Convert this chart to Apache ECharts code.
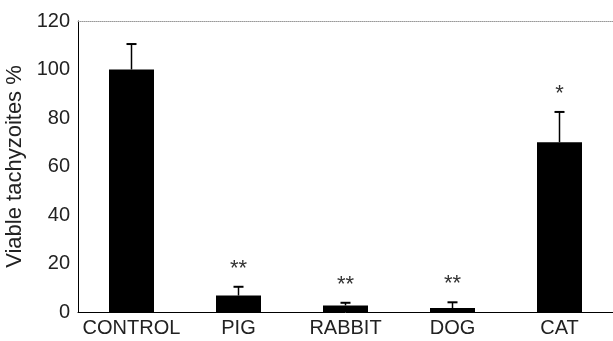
<!DOCTYPE html>
<html>
<head>
<meta charset="utf-8">
<script src="https://cdn.jsdelivr.net/npm/echarts@6/dist/echarts.min.js"></script>
<style>
  html, body { margin: 0; padding: 0; background: #fff; }
  #chart { width: 613px; height: 341px; }
</style>
</head>
<body>
<div id="chart"></div>
<script>
const categories = ['CONTROL', 'PIG', 'RABBIT', 'DOG', 'CAT']
const means = [100, 6.8, 2.7, 1.6, 70]
const errors = [10.5, 3.6, 1.1, 2.4, 12.5]
const stars = ['', '**', '**', '**', '*']
const yTicks = [0, 20, 40, 60, 80, 100, 120]

const chart = echarts.init(document.getElementById('chart'))

const fontFamily = 'Arial, "Liberation Sans", Helvetica, sans-serif'

// 误差线 + 显著性星号
const errorData = means.map((m, i) => [i, m, m + errors[i], stars[i]])

const option = {
  animation: false,
  grid: {
    left: 78,
    right: 0,
    top: 21,
    bottom: 29,
    containLabel: false,
    outerBoundsMode: 'none'
  },
  xAxis: [
    {
      type: 'category',
      data: categories,
      axisLine: { lineStyle: { color: '#000', width: 1 } },
      axisTick: { show: false },
      axisLabel: {
        interval: 0,
        color: '#222',
        fontSize: 20,
        fontFamily: fontFamily,
        margin: 6
      }
    },
    {
      type: 'category',
      data: categories,
      position: 'top',
      axisLine: { lineStyle: { color: '#999', width: 1, type: 'dotted' } },
      axisTick: { show: false },
      axisLabel: { show: false }
    }
  ],
  yAxis: {
    type: 'value',
    min: 0,
    max: 120,
    interval: 20,
    name: 'Viable tachyzoites %',
    nameLocation: 'middle',
    nameGap: 49,
    nameTextStyle: {
      color: '#222',
      fontSize: 22,
      fontFamily: fontFamily
    },
    axisLine: { show: true, lineStyle: { color: '#000', width: 1 } },
    axisTick: { show: false },
    splitLine: { show: false },
    axisLabel: {
      color: '#222',
      fontSize: 20,
      fontFamily: fontFamily,
      margin: 8,
      formatter: v => (yTicks.includes(v) ? String(v) : '')
    }
  },
  series: [
    {
      type: 'bar',
      data: means,
      barWidth: 45,
      itemStyle: { color: '#000' }
    },
    {
      type: 'custom',
      data: errorData,
      z: 5,
      renderItem: (params, api) => {
        const base = api.coord([api.value(0), api.value(1)])
        const top = api.coord([api.value(0), api.value(2)])
        const x = base[0]
        const star = stars[params.dataIndex]
        const children = [
          {
            type: 'line',
            shape: { x1: x, y1: base[1], x2: x, y2: top[1] },
            style: { stroke: '#000', lineWidth: 1.5 }
          },
          {
            type: 'line',
            shape: { x1: x - 5, y1: top[1], x2: x + 5, y2: top[1] },
            style: { stroke: '#000', lineWidth: 2 }
          }
        ]
        if (star) {
          children.push({
            type: 'text',
            style: {
              text: star,
              x: x,
              y: top[1] - 18,
              align: 'center',
              verticalAlign: 'middle',
              fill: '#333',
              font: '22px ' + fontFamily
            }
          })
        }
        return { type: 'group', children }
      }
    }
  ]
}

chart.setOption(option)
window.addEventListener('resize', () => chart.resize())
</script>
</body>
</html>
